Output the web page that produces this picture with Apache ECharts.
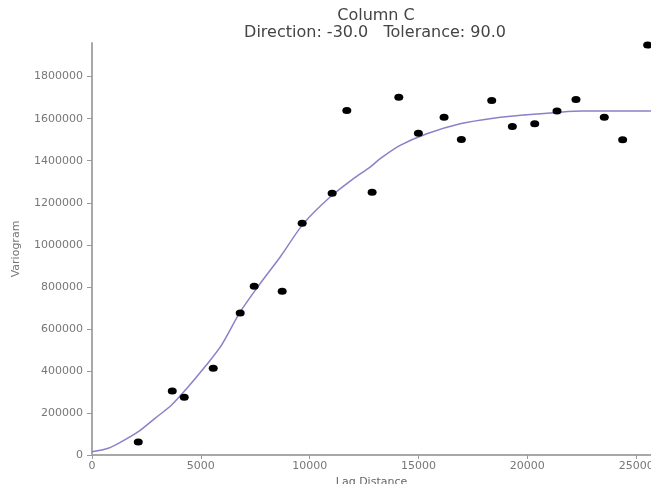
<!DOCTYPE html>
<html>
<head>
<meta charset="utf-8">
<script src="https://cdn.jsdelivr.net/npm/echarts@6/dist/echarts.min.js"></script>
<style>html,body{margin:0;padding:0;background:#fff;}#c{width:651px;height:484px;}</style>
</head>
<body>
<div id="c"></div>
<script>
// Experimental variogram points: [lag distance, variogram]
var lagDistance = [2126, 3687, 4237, 5569, 6808, 7451, 8737, 9655, 11032, 11706, 12868, 14094, 14994, 16174, 16968, 18364, 19310, 20338, 21362, 22234, 23534, 24378, 25526];
var variogram   = [62000, 304000, 275000, 413000, 675000, 803000, 779000, 1102000, 1245000, 1639000, 1250000, 1702000, 1531000, 1607000, 1501000, 1687000, 1563000, 1576000, 1636000, 1691000, 1607000, 1500000, 1950000];
// Model curve
var modelLag = [0, 748, 1359, 2126, 2892, 3654, 4421, 5188, 5950, 6808, 7726, 8645, 9715, 10939, 12010, 12776, 13236, 14154, 15380, 16913, 18437, 19971, 21500, 22555, 25680];
var modelVal = [15000, 31800, 63200, 110700, 174300, 237600, 324500, 419600, 522600, 680800, 815700, 942100, 1100800, 1227200, 1314600, 1369700, 1409600, 1472800, 1528400, 1575900, 1602500, 1618600, 1631000, 1636000, 1636000];
// Tick labels
var xTicks = [0, 5000, 10000, 15000, 20000, 25000];
var yTicks = [0, 200000, 400000, 600000, 800000, 1000000, 1200000, 1400000, 1600000, 1800000];

var pts = lagDistance.map(function (x, i) { return [x, variogram[i]]; });
var model = modelLag.map(function (x, i) { return [x, modelVal[i]]; });
function plain(v) { return String(Math.round(v)); }

var chart = echarts.init(document.getElementById('c'), null, {renderer: 'canvas'});
chart.setOption({
  animation: false,
  backgroundColor: '#ffffff',
  title: [{
    text: 'Column C',
    left: 371, top: 3, textAlign: 'center',
    textStyle: {fontFamily: 'DejaVu Sans', fontSize: 16, fontWeight: 'normal', color: '#444'}
  }, {
    text: 'Direction: -30.0   Tolerance: 90.0',
    left: 370, top: 20, textAlign: 'center',
    textStyle: {fontFamily: 'DejaVu Sans', fontSize: 16, fontWeight: 'normal', color: '#444'}
  }],
  grid: {left: 92, right: 0, top: 43, bottom: 29, containLabel: false, outerBoundsMode: 'none'},
  xAxis: {
    type: 'value', min: 0, max: 25680,
    name: 'Lag Distance', nameLocation: 'middle', nameGap: 22,
    nameTextStyle: {fontFamily: 'DejaVu Sans', fontSize: 11, color: '#666', verticalAlign: 'top'},
    splitLine: {show: false},
    axisLine: {lineStyle: {color: '#a8a8a8', width: 2}},
    axisTick: {show: true, customValues: xTicks, length: 4, lineStyle: {color: '#999'}},
    axisLabel: {customValues: xTicks, formatter: plain, fontFamily: 'DejaVu Sans', fontSize: 11, color: '#777', margin: 6}
  },
  yAxis: {
    type: 'value', min: 0, max: 1960000,
    name: 'Variogram', nameLocation: 'middle', nameGap: 70, nameRotate: 90,
    nameTextStyle: {fontFamily: 'DejaVu Sans', fontSize: 11, color: '#777'},
    splitLine: {show: false},
    axisLine: {lineStyle: {color: '#a8a8a8', width: 2}},
    axisTick: {show: true, customValues: yTicks, length: 5, lineStyle: {color: '#999'}},
    axisLabel: {customValues: yTicks, formatter: plain, fontFamily: 'DejaVu Sans', fontSize: 11, color: '#777', margin: 9}
  },
  series: [{
    type: 'line', data: model, smooth: 0.3, symbol: 'none',
    lineStyle: {color: '#8c80c8', width: 1.5}, z: 2
  }, {
    type: 'scatter', data: pts, symbol: 'circle', symbolSize: [9, 7],
    itemStyle: {color: '#000', opacity: 1}, z: 3
  }]
});
</script>
</body>
</html>
